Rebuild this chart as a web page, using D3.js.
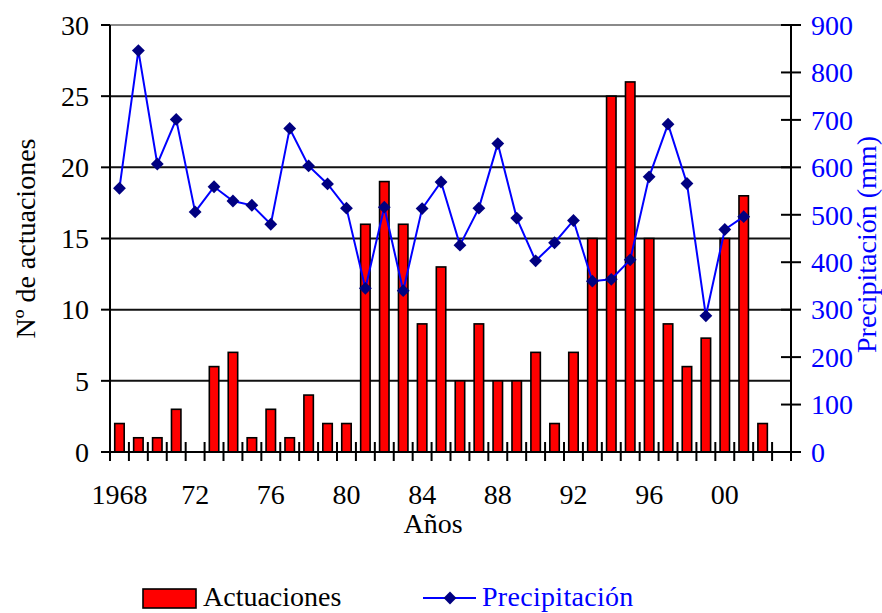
<!DOCTYPE html>
<html>
<head>
<meta charset="utf-8">
<script src="https://cdn.jsdelivr.net/npm/d3@7"></script>
<style>
  html, body { margin: 0; padding: 0; background: #fff; }
  svg { display: block; }
  text { font-family: "Times New Roman", Times, "Liberation Serif", Tinos, "DejaVu Serif", serif; }
</style>
</head>
<body>
<svg id="chart" width="882" height="613"></svg>
<script>
// ---- data ----
const years = d3.range(1968, 2004);
const actuaciones = [2,1,1,3,null,6,7,1,3,1,4,2,2,16,19,16,9,13,5,9,5,5,7,2,7,15,25,26,15,9,6,8,15,18,2,null];
const precipitacion = [556,846,607,701,506,559,529,520,480,682,603,565,514,345,516,340,513,569,436,514,650,493,403,441,488,360,364,405,580,691,566,287,469,496,null,null];
const xTickYears = [1968,1972,1976,1980,1984,1988,1992,1996,2000];
const xTickLabels = ["1968","72","76","80","84","88","92","96","00"];
const leftTicks = [0,5,10,15,20,25,30];
const rightTicks = [0,100,200,300,400,500,600,700,800,900];

// ---- layout ----
const L = 110, R = 791, T = 25, B = 452;
const svg = d3.select("#chart");

const x = d3.scaleBand().domain(years).range([L, R]).paddingInner(0).paddingOuter(0);
const yL = d3.scaleLinear().domain([0, 30]).range([B, T]);
const yR = d3.scaleLinear().domain([0, 900]).range([B, T]);

// gridlines
svg.append("g").selectAll("line").data(leftTicks.filter(d => d > 0)).join("line")
  .attr("x1", L).attr("x2", R)
  .attr("y1", d => yL(d)).attr("y2", d => yL(d))
  .attr("stroke", d => d === 30 ? "#8a8a8a" : "#111")
  .attr("stroke-width", 2);

// bars
const bw = x.bandwidth() * 0.5;
svg.append("g").selectAll("rect")
  .data(years.map((y, i) => ({ y, v: actuaciones[i] })).filter(d => d.v != null))
  .join("rect")
  .attr("x", d => x(d.y) + (x.bandwidth() - bw) / 2)
  .attr("y", d => yL(d.v))
  .attr("width", bw)
  .attr("height", d => B - yL(d.v))
  .attr("fill", "#ff0000")
  .attr("stroke", "#000")
  .attr("stroke-width", 1.6);

// axes lines
const axisG = svg.append("g").attr("stroke", "#000").attr("stroke-width", 2);
axisG.append("line").attr("x1", L).attr("x2", L).attr("y1", T).attr("y2", B);
axisG.append("line").attr("x1", R).attr("x2", R).attr("y1", T).attr("y2", B);
axisG.append("line").attr("x1", L - 9).attr("x2", R + 10).attr("y1", B).attr("y2", B);

// left ticks
svg.append("g").selectAll("line").data(leftTicks).join("line")
  .attr("x1", L - 9).attr("x2", L).attr("y1", d => yL(d)).attr("y2", d => yL(d))
  .attr("stroke", "#000").attr("stroke-width", 2);
svg.append("g").selectAll("text").data(leftTicks).join("text")
  .attr("x", L - 21).attr("y", d => yL(d)).attr("dy", "0.35em")
  .attr("text-anchor", "end").attr("font-size", 28).attr("fill", "#000")
  .text(d => d);

// right ticks
svg.append("g").selectAll("line").data(rightTicks).join("line")
  .attr("x1", R - 10).attr("x2", R + 10).attr("y1", d => yR(d)).attr("y2", d => yR(d))
  .attr("stroke", "#000").attr("stroke-width", 2);
svg.append("g").selectAll("text").data(rightTicks).join("text")
  .attr("x", R + 20).attr("y", d => yR(d)).attr("dy", "0.35em")
  .attr("text-anchor", "start").attr("font-size", 28).attr("fill", "#0000ff")
  .text(d => d);

// x ticks at band boundaries
const xBounds = years.map(y => x(y)).concat([R]);
svg.append("g").selectAll("line").data(xBounds).join("line")
  .attr("x1", d => d).attr("x2", d => d).attr("y1", B - 10).attr("y2", B + 9)
  .attr("stroke", "#000").attr("stroke-width", 2);
svg.append("g").selectAll("text").data(xTickYears).join("text")
  .attr("x", d => x(d) + x.bandwidth() / 2).attr("y", 504)
  .attr("text-anchor", "middle").attr("font-size", 28).attr("fill", "#000")
  .text((d, i) => xTickLabels[i]);

// precipitation line
const pts = years.map((y, i) => ({ y, v: precipitacion[i] })).filter(d => d.v != null);
const line = d3.line().x(d => x(d.y) + x.bandwidth() / 2).y(d => yR(d.v));
svg.append("path").datum(pts).attr("d", line)
  .attr("fill", "none").attr("stroke", "#0000ff").attr("stroke-width", 2);
const diamond = d3.symbol().type(d3.symbolDiamond2).size(105);
svg.append("g").selectAll("path").data(pts).join("path")
  .attr("d", diamond)
  .attr("transform", d => `translate(${x(d.y) + x.bandwidth() / 2},${yR(d.v)})`)
  .attr("fill", "#000080");

// axis titles
svg.append("text")
  .attr("transform", `translate(35,${(T + B) / 2}) rotate(-90)`)
  .attr("text-anchor", "middle").attr("font-size", 28).attr("fill", "#000")
  .text("Nº de actuaciones");
svg.append("text")
  .attr("transform", `translate(876,${(T + B) / 2 + 6}) rotate(-90)`)
  .attr("text-anchor", "middle").attr("font-size", 28).attr("fill", "#0000ff")
  .text("Precipitación (mm)");
svg.append("text")
  .attr("x", 433).attr("y", 533)
  .attr("text-anchor", "middle").attr("font-size", 28).attr("fill", "#000")
  .text("Años");

// legend
const lg = svg.append("g");
lg.append("rect").attr("x", 143).attr("y", 589).attr("width", 53).attr("height", 19)
  .attr("fill", "#ff0000").attr("stroke", "#000").attr("stroke-width", 1.6);
lg.append("text").attr("x", 203).attr("y", 606).attr("font-size", 28).attr("fill", "#000")
  .text("Actuaciones");
lg.append("line").attr("x1", 423).attr("x2", 476).attr("y1", 598).attr("y2", 598)
  .attr("stroke", "#0000ff").attr("stroke-width", 2);
lg.append("path").attr("d", diamond).attr("transform", "translate(450,598)").attr("fill", "#000080");
lg.append("text").attr("x", 482).attr("y", 606).attr("font-size", 28).attr("fill", "#0000ff")
  .attr("letter-spacing", 0.3).text("Precipitación");
</script>
</body>
</html>
